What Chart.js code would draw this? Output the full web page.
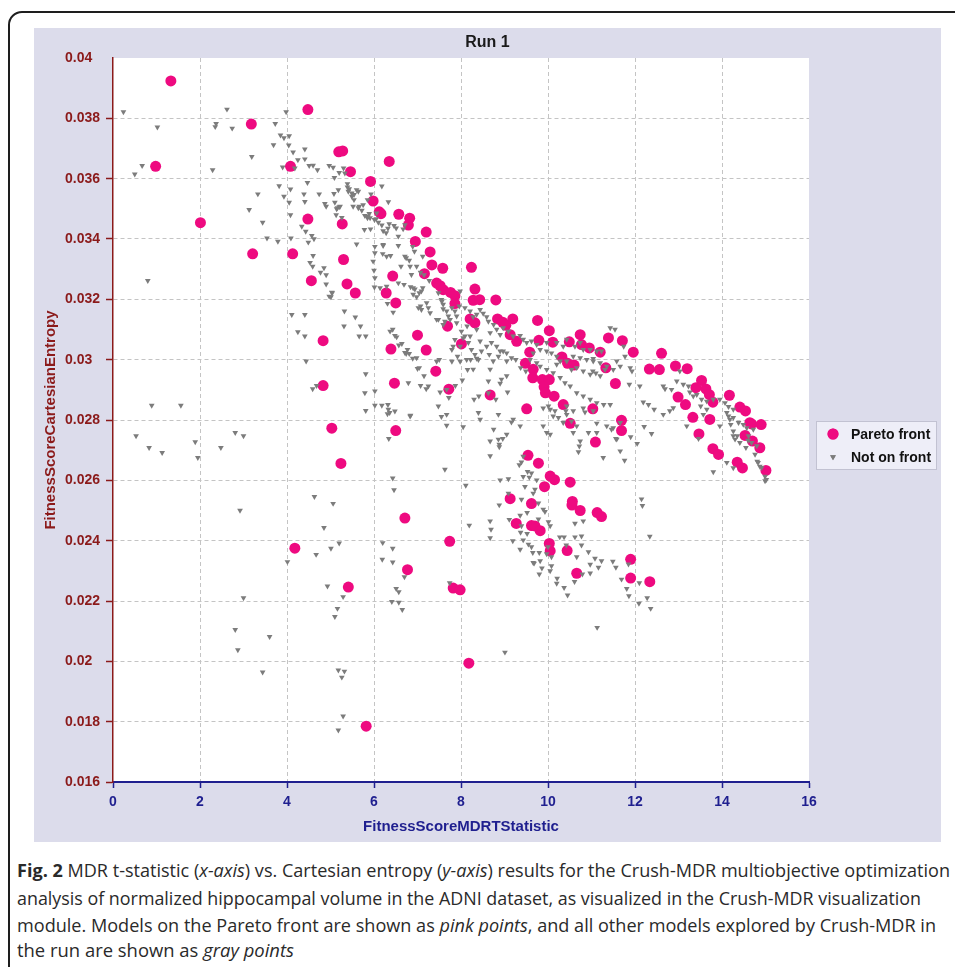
<!DOCTYPE html>
<html>
<head>
<meta charset="utf-8">
<script src="https://cdn.jsdelivr.net/npm/chart.js@4.4.0/dist/chart.umd.min.js"></script>
<style>
html, body { margin: 0; padding: 0; width: 955px; height: 967px; overflow: hidden; background: #fff; }
.frame { position: absolute; left: 8px; top: 11px; width: 970px; height: 980px; border: 2px solid #1e1e1e; border-radius: 14px; box-sizing: border-box; }
.panel { position: absolute; left: 34px; top: 28px; width: 907px; height: 814px; background: #dcdceb; }
.caption { position: absolute; left: 17px; font-family: "Open Sans", sans-serif; font-size: 18px; line-height: 27px; color: #2a2a2a; white-space: nowrap; transform-origin: 0 50%; }
.caption b { font-weight: 700; }
</style>
</head>
<body>
<div class="frame"></div>
<div class="panel"><canvas id="chart" width="907" height="814"></canvas></div>
<div class="caption" id="cap1" style="top:857px"><b>Fig. 2</b> MDR t-statistic (<i>x-axis</i>) vs. Cartesian entropy (<i>y-axis</i>) results for the Crush-MDR multiobjective optimization</div>
<div class="caption" id="cap2" style="top:885px">analysis of normalized hippocampal volume in the ADNI dataset, as visualized in the Crush-MDR visualization</div>
<div class="caption" id="cap3" style="top:912px">module. Models on the Pareto front are shown as <i>pink points</i>, and all other models explored by Crush-MDR in</div>
<div class="caption" id="cap4" style="top:937px">the run are shown as <i>gray points</i></div>
<script>
// axis ticks
const xTickLabels = ['0', '2', '4', '6', '8', '10', '12', '14', '16'];
const yTickLabels = ['0.016', '0.018', '0.02', '0.022', '0.024', '0.026', '0.028', '0.03', '0.032', '0.034', '0.036', '0.038', '0.04'];

// Pareto front models (pink)
const paretoX = [1.33, 0.98, 3.18, 4.48, 2.01, 3.21, 4.08, 4.48, 4.13, 5.19, 5.28, 5.46, 6.35, 5.92, 5.98, 6.12, 6.16, 6.57, 6.82, 6.79,
  7.20, 6.95, 5.27, 5.30, 4.56, 5.38, 5.57, 6.43, 6.28, 7.29, 7.33, 7.58, 8.24, 7.44, 7.52, 7.59, 7.76, 8.32, 7.86, 7.16,
  6.50, 4.83, 7.00, 6.39, 7.20, 7.69, 8.01, 7.42, 4.83, 6.47, 7.72, 5.03, 6.50, 5.24, 6.71, 7.74, 4.18, 6.77, 8.28, 8.21,
  8.32, 7.86, 5.41, 7.82, 7.98, 8.18, 5.82, 10.66, 11.90, 12.34, 11.90, 9.51, 11.03, 10.51, 11.69, 11.69, 11.09, 9.54, 9.78, 10.05,
  10.15, 10.51, 9.92, 9.13, 9.62, 10.56, 10.55, 10.74, 11.13, 11.23, 9.27, 9.62, 9.70, 9.82, 10.03, 10.05, 10.44, 8.43, 8.80, 8.67,
  8.84, 8.96, 9.03, 9.19, 9.13, 9.28, 9.76, 10.03, 9.79, 10.11, 9.58, 9.48, 9.66, 9.65, 9.87, 10.03, 9.91, 9.94, 10.14, 10.35,
  10.49, 10.74, 10.77, 10.95, 10.32, 10.45, 10.60, 11.20, 11.39, 11.33, 11.55, 11.71, 11.96, 12.61, 12.33, 12.56, 12.93, 13.20, 13.53, 13.40,
  13.63, 13.71, 13.79, 12.99, 13.16, 13.33, 13.72, 13.47, 14.17, 14.41, 14.54, 14.64, 14.68, 14.90, 14.53, 14.70, 14.87, 13.79, 13.92, 14.35,
  14.47, 15.01];
const paretoY = [0.03924, 0.03641, 0.03781, 0.03829, 0.03454, 0.03351, 0.03641, 0.03466, 0.03351, 0.03689, 0.03692, 0.03623, 0.03657, 0.03591, 0.03526, 0.03490, 0.03484, 0.03482, 0.03469, 0.03446,
  0.03423, 0.03392, 0.03450, 0.03332, 0.03262, 0.03251, 0.03221, 0.03277, 0.03221, 0.03357, 0.03314, 0.03303, 0.03306, 0.03254, 0.03245, 0.03232, 0.03223, 0.03234, 0.03212, 0.03285,
  0.03188, 0.03063, 0.03081, 0.03035, 0.03032, 0.03111, 0.03052, 0.02962, 0.02914, 0.02922, 0.02902, 0.02773, 0.02765, 0.02656, 0.02475, 0.02398, 0.02375, 0.02304, 0.03197, 0.03135,
  0.03122, 0.03186, 0.02246, 0.02243, 0.02237, 0.01994, 0.01785, 0.02292, 0.02276, 0.02264, 0.02338, 0.02837, 0.02837, 0.02789, 0.02799, 0.02765, 0.02727, 0.02683, 0.02657, 0.02614,
  0.02602, 0.02594, 0.02579, 0.02539, 0.02523, 0.02530, 0.02518, 0.02500, 0.02493, 0.02480, 0.02457, 0.02450, 0.02449, 0.02433, 0.02391, 0.02366, 0.02367, 0.03199, 0.03198, 0.02883,
  0.03135, 0.03124, 0.03114, 0.03135, 0.03083, 0.03061, 0.03130, 0.03096, 0.03064, 0.03058, 0.03025, 0.02988, 0.02968, 0.02940, 0.02934, 0.02934, 0.02910, 0.02890, 0.02879, 0.02851,
  0.03059, 0.03083, 0.03050, 0.03039, 0.03009, 0.02988, 0.02982, 0.03025, 0.03072, 0.02973, 0.02921, 0.03063, 0.03025, 0.03021, 0.02969, 0.02967, 0.02979, 0.02970, 0.02931, 0.02907,
  0.02903, 0.02884, 0.02859, 0.02876, 0.02851, 0.02809, 0.02802, 0.02754, 0.02882, 0.02843, 0.02830, 0.02791, 0.02787, 0.02785, 0.02749, 0.02730, 0.02708, 0.02705, 0.02686, 0.02660,
  0.02641, 0.02633];

// all other explored models (gray)
const otherX = [0.24, 1.02, 0.67, 0.50, 0.80, 2.62, 2.37, 2.35, 2.74, 2.29, 3.19, 3.33, 3.13, 3.44, 3.54, 3.79, 3.98, 3.73, 3.85, 3.93,
  4.05, 3.69, 4.04, 4.14, 4.25, 4.41, 4.41, 4.51, 4.60, 4.70, 4.18, 3.90, 4.97, 5.06, 5.09, 4.47, 3.82, 4.08, 3.93, 4.05,
  4.39, 4.41, 4.74, 4.87, 4.90, 5.14, 5.20, 5.13, 5.20, 5.30, 5.33, 5.39, 5.43, 5.49, 5.54, 5.64, 5.52, 5.66, 5.72, 5.79,
  5.89, 5.85, 6.05, 6.01, 6.10, 6.18, 6.21, 6.32, 6.28, 6.35, 6.46, 6.51, 6.56, 6.67, 6.71, 5.78, 5.92, 5.60, 6.02, 6.21,
  6.02, 5.98, 6.20, 6.29, 6.38, 6.56, 6.74, 6.81, 6.89, 6.93, 6.62, 6.56, 6.69, 6.84, 6.94, 7.04, 6.98, 7.07, 7.15, 7.12,
  7.27, 6.01, 6.29, 4.49, 4.62, 4.57, 4.43, 4.34, 4.08, 4.09, 4.60, 4.53, 4.59, 4.85, 4.77, 4.90, 5.03, 4.97, 6.02, 6.00,
  0.89, 1.56, 0.53, 0.83, 1.13, 1.89, 1.95, 2.48, 2.81, 3.00, 2.92, 4.11, 4.41, 4.25, 4.41, 4.44, 4.59, 4.68, 5.01, 5.04,
  5.32, 5.31, 5.57, 5.66, 5.81, 5.69, 5.81, 5.79, 6.02, 6.02, 6.18, 6.33, 6.31, 5.81, 6.83, 6.34, 6.43, 6.46, 4.63, 5.06,
  4.85, 4.67, 5.01, 5.20, 4.01, 6.20, 6.43, 6.19, 6.43, 7.63, 8.11, 8.19, 7.67, 7.55, 8.03, 8.28, 8.30, 8.41, 8.40, 7.00,
  7.15, 7.07, 7.20, 7.52, 7.67, 7.72, 7.87, 7.79, 7.98, 7.44, 6.74, 6.89, 6.77, 6.57, 6.37, 6.52, 6.64, 6.31, 6.44, 6.14,
  6.98, 7.07, 7.29, 7.44, 7.59, 7.79, 7.86, 8.09, 8.14, 8.22, 8.36, 3.00, 2.81, 2.87, 3.60, 3.44, 4.93, 5.29, 5.16, 5.10,
  5.18, 5.32, 5.26, 5.29, 5.18, 6.51, 6.57, 6.41, 6.57, 6.65, 6.70, 7.74, 9.01, 11.13, 9.66, 9.86, 9.80, 10.08, 10.05, 10.21,
  10.20, 10.37, 10.45, 10.61, 10.79, 10.97, 10.97, 11.16, 11.23, 11.49, 11.56, 11.69, 11.81, 11.86, 12.09, 12.10, 12.28, 12.36, 11.85, 8.67,
  8.86, 8.96, 8.88, 8.88, 8.67, 8.90, 9.09, 8.88, 8.67, 8.69, 8.67, 9.19, 9.36, 9.34, 9.39, 9.43, 9.53, 9.43, 9.57, 9.62,
  9.74, 9.09, 9.39, 9.47, 9.66, 9.70, 9.78, 9.93, 9.89, 9.52, 9.78, 10.01, 10.05, 9.39, 9.52, 9.36, 9.43, 9.55, 9.65, 9.68,
  9.82, 10.08, 10.00, 10.27, 10.37, 10.42, 10.62, 10.77, 10.77, 10.62, 10.81, 10.66, 10.93, 11.08, 9.89, 9.97, 10.05, 10.12, 10.24, 10.35,
  10.43, 10.54, 10.66, 10.74, 10.72, 10.70, 10.93, 11.27, 11.56, 11.76, 11.90, 12.05, 12.21, 12.38, 11.46, 11.66, 12.15, 12.17, 12.34, 9.20,
  9.16, 10.05, 10.16, 10.41, 10.58, 10.85, 11.12, 11.04, 6.21, 6.71, 6.83, 6.86, 7.12, 7.02, 7.09, 6.90, 6.90, 7.09, 7.21, 7.25,
  7.48, 7.56, 7.59, 7.48, 7.63, 7.79, 7.98, 7.96, 7.90, 6.43, 6.48, 6.71, 6.81, 6.98, 7.04, 7.25, 6.79, 7.50, 7.48, 7.67,
  7.92, 8.15, 8.63, 9.07, 9.05, 8.67, 8.63, 8.80, 6.32, 6.36, 6.48, 6.84, 8.05, 8.44, 8.75, 9.05, 9.36, 8.09, 8.21, 8.28,
  8.36, 8.44, 8.51, 8.59, 8.63, 8.75, 8.82, 8.67, 8.90, 8.97, 9.09, 9.20, 9.36, 9.43, 9.51, 9.62, 9.74, 9.82, 9.97, 10.08,
  10.20, 10.28, 10.43, 10.58, 10.74, 10.89, 11.04, 11.20, 11.35, 11.50, 9.97, 10.20, 10.35, 10.43, 10.62, 10.81, 10.97, 11.12, 9.97, 10.12,
  10.28, 10.39, 10.51, 10.66, 10.81, 10.97, 11.12, 11.28, 11.43, 9.82, 9.74, 8.82, 8.90, 9.05, 8.70, 8.44, 8.21, 8.36, 10.74, 11.04,
  11.23, 11.58, 11.66, 11.77, 11.74, 11.89, 11.93, 11.87, 12.11, 12.19, 12.31, 12.44, 12.65, 12.69, 12.84, 12.96, 13.03, 13.11, 13.23, 13.26,
  13.34, 13.42, 13.53, 13.65, 13.51, 13.65, 13.80, 13.95, 14.07, 14.15, 14.26, 14.15, 14.26, 14.38, 14.49, 14.57, 14.72, 14.61, 14.68, 14.80,
  14.76, 14.83, 14.91, 14.99, 14.30, 14.41, 14.26, 13.95, 14.11, 13.80, 13.19, 13.46, 13.57, 12.65, 12.80, 12.88, 11.50, 11.58, 10.81, 11.43,
  11.54, 11.03, 11.10, 11.20, 14.26, 14.55, 14.60, 14.81, 14.87, 14.99, 15.02, 14.18, 14.20, 14.26, 14.11, 14.35, 7.55, 7.59, 7.67, 7.71,
  7.75, 7.86, 7.90, 8.01, 8.05, 8.17, 8.24, 8.32, 8.40, 8.47, 8.59, 8.65, 8.74, 8.86, 8.97, 9.05, 9.16, 9.26, 9.37, 9.49,
  9.59, 9.66, 10.20, 10.54, 10.66, 10.81, 10.97, 11.31, 7.82, 7.98, 8.13, 8.90, 8.93, 8.86, 9.89, 10.01, 10.43, 10.58, 11.12, 11.35,
  11.66, 9.11, 9.37, 9.62, 9.80, 9.97, 4.90, 5.10, 5.08, 5.16, 5.18, 5.22, 5.26, 5.39, 5.41, 5.49, 5.54, 5.60, 5.64, 5.75,
  5.85, 5.86, 5.91, 6.06, 6.33, 6.18, 5.93];
const otherY = [0.03821, 0.03771, 0.03643, 0.03615, 0.03262, 0.03830, 0.03782, 0.03772, 0.03767, 0.03629, 0.03673, 0.03549, 0.03497, 0.03455, 0.03403, 0.03392, 0.03821, 0.03782, 0.03744, 0.03735,
  0.03742, 0.03712, 0.03711, 0.03688, 0.03662, 0.03698, 0.03665, 0.03643, 0.03644, 0.03629, 0.03635, 0.03638, 0.03643, 0.03637, 0.03603, 0.03587, 0.03576, 0.03565, 0.03541, 0.03521,
  0.03549, 0.03524, 0.03549, 0.03517, 0.03508, 0.03500, 0.03506, 0.03480, 0.03620, 0.03635, 0.03618, 0.03583, 0.03566, 0.03552, 0.03547, 0.03558, 0.03508, 0.03508, 0.03495, 0.03477,
  0.03484, 0.03470, 0.03467, 0.03464, 0.03455, 0.03446, 0.03427, 0.03435, 0.03420, 0.03450, 0.03444, 0.03436, 0.03409, 0.03433, 0.03447, 0.03431, 0.03433, 0.03383, 0.03375, 0.03378,
  0.03354, 0.03326, 0.03351, 0.03342, 0.03345, 0.03378, 0.03337, 0.03329, 0.03375, 0.03359, 0.03309, 0.03254, 0.03249, 0.03241, 0.03234, 0.03221, 0.03309, 0.03289, 0.03281, 0.03342,
  0.03262, 0.03240, 0.03243, 0.03389, 0.03400, 0.03411, 0.03425, 0.03442, 0.03480, 0.03403, 0.03345, 0.03322, 0.03309, 0.03304, 0.03289, 0.03281, 0.03223, 0.03210, 0.03271, 0.03296,
  0.02848, 0.02848, 0.02747, 0.02708, 0.02692, 0.02727, 0.02675, 0.02708, 0.02758, 0.02747, 0.02500, 0.03149, 0.03149, 0.03092, 0.03078, 0.02995, 0.02903, 0.02914, 0.03208, 0.03221,
  0.03161, 0.03111, 0.03141, 0.03078, 0.03078, 0.03111, 0.02953, 0.02890, 0.02896, 0.02848, 0.02848, 0.02835, 0.02820, 0.02831, 0.02813, 0.02738, 0.02607, 0.02568, 0.02546, 0.02523,
  0.02443, 0.02354, 0.02374, 0.02392, 0.02330, 0.02393, 0.02374, 0.02338, 0.02329, 0.02636, 0.02583, 0.02451, 0.02782, 0.02811, 0.02932, 0.02968, 0.02868, 0.02879, 0.02824, 0.02970,
  0.02946, 0.02914, 0.02903, 0.02892, 0.02901, 0.02874, 0.02914, 0.02994, 0.02994, 0.02994, 0.03020, 0.03004, 0.03033, 0.03048, 0.03094, 0.03075, 0.03053, 0.03186, 0.03157, 0.03238,
  0.03208, 0.03177, 0.03155, 0.03133, 0.03116, 0.03033, 0.03066, 0.03078, 0.03111, 0.03000, 0.03004, 0.02210, 0.02105, 0.02038, 0.02082, 0.01964, 0.02249, 0.02214, 0.02175, 0.02148,
  0.01971, 0.01967, 0.01947, 0.01818, 0.01772, 0.02241, 0.02230, 0.02198, 0.02195, 0.02171, 0.02280, 0.02260, 0.02030, 0.02112, 0.02327, 0.02309, 0.02289, 0.02316, 0.02300, 0.02275,
  0.02258, 0.02244, 0.02219, 0.02264, 0.02289, 0.02292, 0.02321, 0.02311, 0.02333, 0.02331, 0.02311, 0.02272, 0.02241, 0.02217, 0.02192, 0.02260, 0.02210, 0.02175, 0.02322, 0.02730,
  0.02736, 0.02738, 0.02719, 0.02711, 0.02681, 0.02601, 0.02605, 0.02518, 0.02465, 0.02437, 0.02409, 0.02399, 0.02371, 0.02651, 0.02660, 0.02679, 0.02629, 0.02612, 0.02610, 0.02624,
  0.02601, 0.02557, 0.02537, 0.02579, 0.02557, 0.02570, 0.02524, 0.02496, 0.02504, 0.02493, 0.02471, 0.02462, 0.02449, 0.02449, 0.02423, 0.02484, 0.02402, 0.02388, 0.02360, 0.02325,
  0.02333, 0.02346, 0.02379, 0.02412, 0.02412, 0.02385, 0.02412, 0.02415, 0.02385, 0.02457, 0.02465, 0.02346, 0.02363, 0.02341, 0.02780, 0.02758, 0.02752, 0.02813, 0.02808, 0.02791,
  0.02818, 0.02796, 0.02780, 0.02730, 0.02713, 0.02694, 0.02758, 0.02675, 0.02738, 0.02666, 0.02744, 0.02722, 0.02778, 0.02755, 0.02769, 0.02697, 0.02538, 0.02516, 0.02414, 0.02802,
  0.02793, 0.02835, 0.02830, 0.02830, 0.02830, 0.02826, 0.02789, 0.02830, 0.03381, 0.03342, 0.03309, 0.03282, 0.03238, 0.03172, 0.03166, 0.03238, 0.03216, 0.03227, 0.03188, 0.03172,
  0.03221, 0.03193, 0.03168, 0.03133, 0.03127, 0.03172, 0.03227, 0.03177, 0.03144, 0.03100, 0.03080, 0.03023, 0.03020, 0.03006, 0.02973, 0.02912, 0.02923, 0.03000, 0.02846, 0.02818,
  0.03011, 0.02967, 0.02890, 0.02892, 0.02946, 0.02968, 0.02929, 0.02868, 0.02851, 0.02824, 0.02829, 0.02815, 0.02777, 0.02802, 0.02769, 0.02752, 0.02780, 0.03172, 0.03161, 0.03142,
  0.03150, 0.03166, 0.03153, 0.03142, 0.03127, 0.03116, 0.03100, 0.03089, 0.03083, 0.03105, 0.03094, 0.03078, 0.03080, 0.03067, 0.03056, 0.03061, 0.03050, 0.03033, 0.03028, 0.03022,
  0.03011, 0.02995, 0.02995, 0.03011, 0.03006, 0.03000, 0.02995, 0.02989, 0.02978, 0.02967, 0.03056, 0.03056, 0.03044, 0.03067, 0.03044, 0.03033, 0.03033, 0.03028, 0.02967, 0.02956,
  0.02940, 0.02923, 0.02912, 0.02890, 0.02879, 0.02868, 0.02857, 0.02851, 0.02851, 0.02978, 0.02989, 0.03044, 0.03028, 0.03022, 0.03056, 0.03061, 0.03078, 0.03100, 0.03056, 0.03003,
  0.03028, 0.02995, 0.02978, 0.03011, 0.03044, 0.02973, 0.02962, 0.02918, 0.02912, 0.02859, 0.02851, 0.02835, 0.02912, 0.02903, 0.02901, 0.02929, 0.02962, 0.02918, 0.02912, 0.02892,
  0.02879, 0.02884, 0.02868, 0.02862, 0.02846, 0.02835, 0.02868, 0.02868, 0.02857, 0.02844, 0.02835, 0.02813, 0.02808, 0.02791, 0.02785, 0.02774, 0.02769, 0.02747, 0.02725, 0.02714,
  0.02686, 0.02659, 0.02642, 0.02598, 0.02736, 0.02725, 0.02747, 0.02780, 0.02659, 0.02628, 0.02780, 0.02738, 0.02818, 0.02818, 0.02830, 0.02840, 0.02774, 0.02736, 0.02839, 0.03105,
  0.03100, 0.02962, 0.02955, 0.02946, 0.02641, 0.02708, 0.02732, 0.02663, 0.02646, 0.02613, 0.02602, 0.02802, 0.02785, 0.02763, 0.02824, 0.02747, 0.03199, 0.03183, 0.03161, 0.03144,
  0.03133, 0.03161, 0.03122, 0.03094, 0.03072, 0.03056, 0.03033, 0.03017, 0.03000, 0.03028, 0.03044, 0.03017, 0.02995, 0.03011, 0.03028, 0.02995, 0.03006, 0.03000, 0.02973, 0.02962,
  0.03000, 0.03022, 0.02984, 0.02967, 0.02973, 0.02962, 0.02951, 0.02967, 0.03044, 0.03044, 0.03000, 0.02921, 0.02935, 0.02818, 0.02839, 0.02846, 0.02846, 0.02758, 0.02758, 0.02780,
  0.02791, 0.02470, 0.02427, 0.02379, 0.02360, 0.02356, 0.03250, 0.03521, 0.03550, 0.03503, 0.03563, 0.03508, 0.03471, 0.03572, 0.03558, 0.03541, 0.03530, 0.03563, 0.03503, 0.03513,
  0.03530, 0.03475, 0.03470, 0.03486, 0.03523, 0.03575, 0.03549];

const PINK = '#ee0a80';
const GRAY = '#7c7c7c';
const RED = '#8b1a1a';
const BLUE = '#1f1f8f';
const GRID = '#c4c4c4';
const FONT = '"Liberation Sans", Arial, sans-serif';

function toPoints(xs, ys) {
    return xs.map((x, i) => ({ x: x, y: ys[i] }));
}

function labelFor(list, v) {
    const hit = list.find(l => Math.abs(parseFloat(l) - v) < 1e-9);
    return hit === undefined ? '' : hit;
}

// white plotting area on the lavender panel, title centred on the whole panel
const plotBackground = {
    id: 'plotBackground',
    beforeDraw(chart) {
        const { ctx, chartArea } = chart;
        ctx.save();
        ctx.fillStyle = '#ffffff';
        ctx.fillRect(chartArea.left, chartArea.top, chartArea.right - chartArea.left, chartArea.bottom - chartArea.top);
        ctx.fillStyle = '#1a1a1a';
        ctx.font = 'bold 16px ' + FONT;
        ctx.textAlign = 'center';
        ctx.textBaseline = 'middle';
        ctx.fillText('Run 1', chart.width / 2, 15);
        ctx.restore();
    }
};

// boxed legend to the right of the plot
const boxLegend = {
    id: 'boxLegend',
    afterDraw(chart) {
        const ctx = chart.ctx;
        const box = { x: 782, y: 393, w: 121, h: 49 };
        ctx.save();
        ctx.fillStyle = '#eeeef8';
        ctx.strokeStyle = '#c2c2d2';
        ctx.lineWidth = 1;
        ctx.fillRect(box.x, box.y, box.w, box.h);
        ctx.strokeRect(box.x + 0.5, box.y + 0.5, box.w - 1, box.h - 1);
        [0, 1].forEach((di, row) => {
            const ds = chart.data.datasets[di];
            const y = box.y + 13 + row * 23;
            ctx.fillStyle = ds.backgroundColor;
            Chart.helpers.drawPoint(ctx, {
                pointStyle: ds.pointStyle,
                rotation: ds.pointRotation || 0,
                radius: ds.pointRadius,
                borderWidth: 0
            }, box.x + 17, y);
            ctx.fill();
            ctx.fillStyle = '#111111';
            ctx.font = 'bold 14px ' + FONT;
            ctx.textBaseline = 'middle';
            ctx.textAlign = 'left';
            ctx.fillText(ds.label, box.x + 35, y + 1);
        });
        ctx.restore();
    }
};

const ctx = document.getElementById('chart').getContext('2d');
new Chart(ctx, {
    type: 'scatter',
    data: {
        datasets: [{
            label: 'Pareto front',
            data: toPoints(paretoX, paretoY),
            pointStyle: 'circle',
            pointRadius: 5.5,
            pointBorderWidth: 0,
            backgroundColor: PINK,
            borderColor: PINK,
            order: 2
        }, {
            label: 'Not on front',
            data: toPoints(otherX, otherY),
            pointStyle: 'triangle',
            pointRotation: 180,
            pointRadius: 3.3,
            pointBorderWidth: 0,
            backgroundColor: GRAY,
            borderColor: GRAY,
            order: 1
        }]
    },
    options: {
        responsive: false,
        animation: false,
        devicePixelRatio: 1,
        layout: { padding: { left: 31, right: 132, top: 30, bottom: 0 } },
        plugins: {
            legend: { display: false },
            tooltip: { enabled: false },
            title: { display: false }
        },
        scales: {
            x: {
                type: 'linear',
                position: 'bottom',
                min: 0,
                max: 16,
                afterFit: scale => { scale.height = 60; },
                ticks: {
                    stepSize: 2,
                    color: BLUE,
                    padding: 6,
                    font: { family: FONT, size: 14, weight: 'bold' },
                    callback: v => labelFor(xTickLabels, v)
                },
                grid: {
                    color: c => (c.tick && (c.tick.value === 0 || c.tick.value === 16)) ? 'rgba(0,0,0,0)' : GRID,
                    tickColor: BLUE,
                    tickLength: 6,
                    tickWidth: 1.5
                },
                border: { color: BLUE, width: 2, dash: [4, 3] },
                title: {
                    display: true,
                    text: 'FitnessScoreMDRTStatistic',
                    color: BLUE,
                    font: { family: FONT, size: 15, weight: 'bold' },
                    padding: { top: 0, bottom: 6 }
                }
            },
            y: {
                type: 'linear',
                min: 0.016,
                max: 0.04,
                afterFit: scale => { scale.width = 48; },
                ticks: {
                    stepSize: 0.002,
                    color: RED,
                    crossAlign: 'far',
                    font: { family: FONT, size: 14, weight: 'bold' },
                    callback: v => labelFor(yTickLabels, v)
                },
                grid: {
                    color: c => (c.tick && Math.abs(c.tick.value - 0.04) < 1e-9) ? 'rgba(0,0,0,0)' : GRID,
                    tickColor: c => (c.tick && Math.abs(c.tick.value - 0.04) < 1e-9) ? 'rgba(0,0,0,0)' : RED,
                    tickLength: 7,
                    tickWidth: 1.5
                },
                border: { color: RED, width: 1.5, dash: [4, 3] },
                title: {
                    display: true,
                    text: 'FitnessScoreCartesianEntropy',
                    color: RED,
                    font: { family: FONT, size: 15, weight: 'bold' },
                    padding: { top: -23, bottom: 0 }
                }
            }
        }
    },
    plugins: [plotBackground, boxLegend]
});

// squeeze each caption line to the width it takes in the figure
const captionWidths = { cap1: 933, cap2: 904, cap3: 919, cap4: 277 };
Object.keys(captionWidths).forEach(id => {
    const el = document.getElementById(id);
    const w = el.getBoundingClientRect().width;
    el.style.transform = 'scaleX(' + (captionWidths[id] / w) + ')';
});
</script>
</body>
</html>
